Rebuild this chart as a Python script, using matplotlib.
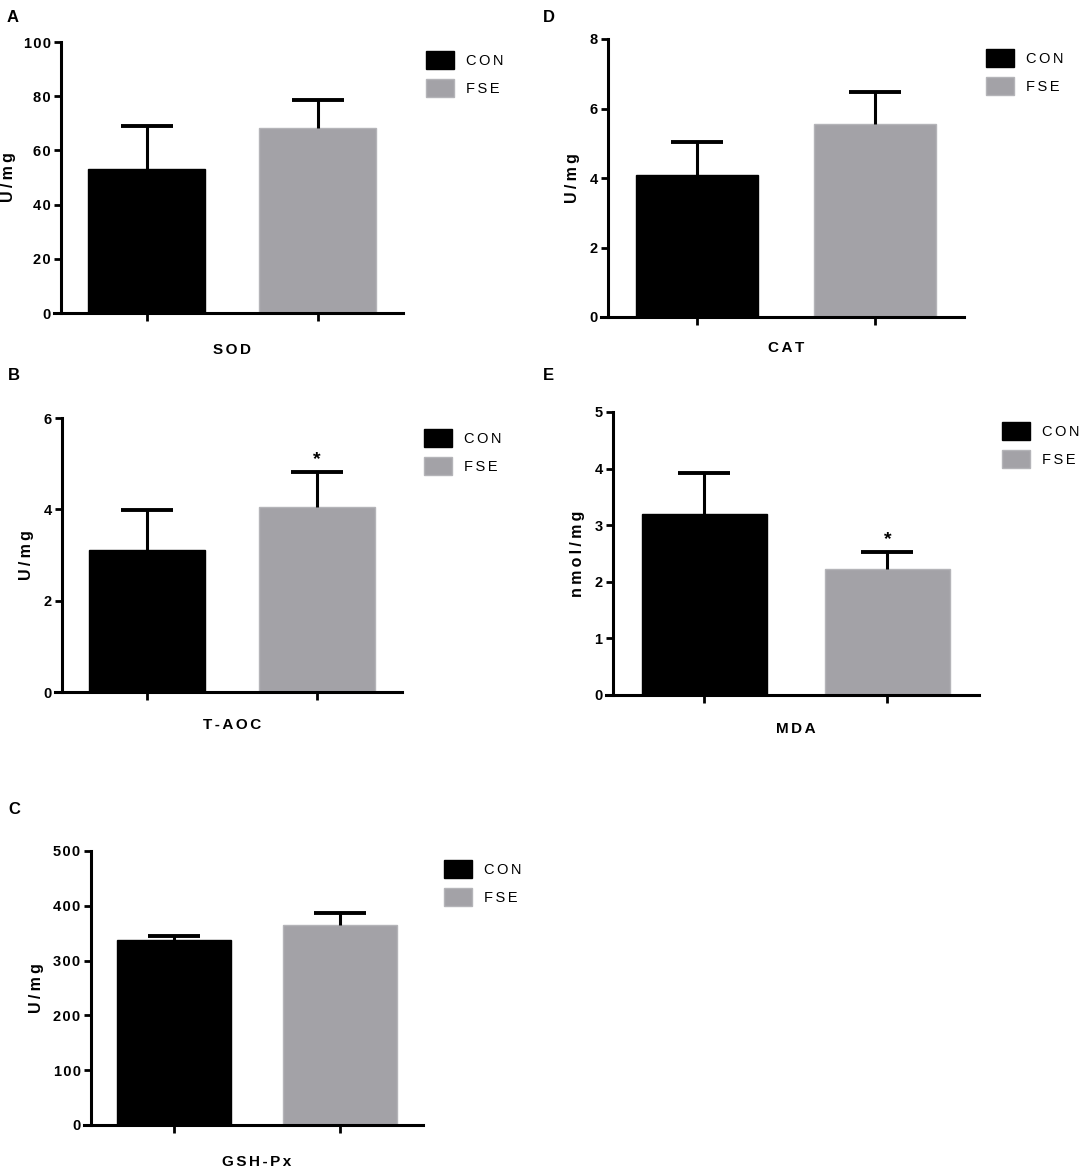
import matplotlib
matplotlib.use("Agg")
import matplotlib.pyplot as plt
from matplotlib.patches import Patch
import numpy as np

plt.rcParams['font.family'] = ['Liberation Sans', 'DejaVu Sans']

groups = ['CON', 'FSE']
colors = ['#000000', '#a3a2a7']
edgecolors = ['#000000', '#b4b4b8']

sod_mean = [53.1, 68.3]
sod_err = [15.9, 10.3]
cat_mean = [4.09, 5.55]
cat_err = [0.95, 0.92]
taoc_mean = [3.11, 4.05]
taoc_err = [0.88, 0.77]
mda_mean = [3.20, 2.23]
mda_err = [0.72, 0.30]
gsh_mean = [337, 365]
gsh_err = [8, 22]

sod_ticks = [0, 20, 40, 60, 80, 100]
cat_ticks = [0, 2, 4, 6, 8]
taoc_ticks = [0, 2, 4, 6]
mda_ticks = [0, 1, 2, 3, 4, 5]
gsh_ticks = [0, 100, 200, 300, 400, 500]

W, H = 1084, 1169
fig = plt.figure(figsize=(W / 100, H / 100), dpi=100)

def sp(s, ch='\u2009'):
    return ch.join(s)

def panel(letter, box, mean, err, ticks, ylabel, xlabel, star, letter_xy,
          ylab_x, xlab_y, leg_xy):
    left, right, top, bottom = box
    ax = fig.add_axes([left / W, 1 - bottom / H, (right - left) / W, (bottom - top) / H])
    x = np.arange(len(groups))
    ax.bar(x, mean, width=0.685, color=colors, edgecolor=edgecolors, linewidth=1.0, zorder=2)
    for i in range(len(groups)):
        _, caps, _ = ax.errorbar(x[i], mean[i], yerr=[[0], [err[i]]], fmt='none', ecolor='black',
                                 elinewidth=2.2, capsize=19, capthick=2.8, zorder=3)
        for c in caps:
            if np.allclose(c.get_ydata(), mean[i]):
                c.set_visible(False)
        if star[i]:
            ax.annotate('*', (x[i], mean[i] + err[i]), xytext=(0, 3), textcoords='offset points',
                        ha='center', va='bottom', fontsize=14, fontweight='bold')
    ax.set_xlim(-0.5, 1.5)
    ax.set_ylim(ticks[0], ticks[-1])
    ax.set_yticks(ticks)
    ax.set_yticklabels([sp(str(t), '\u200a') for t in ticks], fontweight='bold', fontsize=10.5)
    ax.set_xticks(x)
    ax.set_xticklabels([])
    for s in ['top', 'right']:
        ax.spines[s].set_visible(False)
    for s in ['left', 'bottom']:
        ax.spines[s].set_linewidth(2.2)
        ax.spines[s].set_capstyle('projecting')
    ax.spines['bottom'].set_bounds(-0.54, 1.5)
    ax.tick_params(axis='y', length=5, width=2.0, direction='out', pad=2.5)
    ax.tick_params(axis='x', length=5.5, width=2.0, direction='out')
    ax.set_ylabel(ylabel, fontweight='bold', fontsize=11.5)
    ax.yaxis.set_label_coords((ylab_x - left) / (right - left), 0.5)
    ax.set_xlabel(sp(xlabel, '\u200a\u200a'), fontweight='bold', fontsize=11)
    ax.xaxis.set_label_coords(0.5, -(xlab_y - bottom) / (bottom - top))
    ax.patch.set_alpha(0)
    handles = [Patch(facecolor=colors[i], edgecolor=edgecolors[i]) for i in range(len(groups))]
    ax.legend(handles, [sp(g, '\u200a\u200a') for g in groups], loc='upper left',
              bbox_to_anchor=((leg_xy[0] - left) / (right - left), 1 - (leg_xy[1] - top) / (bottom - top)),
              frameon=False, fontsize=10.5, handlelength=1.9, handleheight=1.47,
              labelspacing=0.75, handletextpad=0.85, borderpad=0, borderaxespad=0)
    fig.text(letter_xy[0] / W, 1 - letter_xy[1] / H, letter, fontweight='bold', fontsize=12,
             ha='left', va='center')
    return ax

panel('A', (61, 403, 42, 313), sod_mean, sod_err, sod_ticks, sp('U/mg'), 'SOD',
      [False, False], (7, 18), 16, 343, (426, 51))
panel('D', (608, 964, 39, 317), cat_mean, cat_err, cat_ticks, sp('U/mg'), 'CAT',
      [False, False], (543, 18), 580, 341, (986, 49))
panel('B', (62, 402, 418, 692), taoc_mean, taoc_err, taoc_ticks, sp('U/mg'), 'T-AOC',
      [False, True], (8, 376), 34, 718, (424, 429))
panel('E', (613, 979, 412, 695), mda_mean, mda_err, mda_ticks, sp('nmol/mg'), 'MDA',
      [False, True], (543, 376), 585, 722, (1002, 422))
panel('C', (91, 423, 851, 1125), gsh_mean, gsh_err, gsh_ticks, sp('U/mg'), 'GSH-Px',
      [False, False], (8, 810), 44, 1155, (444, 860))

fig.savefig('out.png', dpi=100)
